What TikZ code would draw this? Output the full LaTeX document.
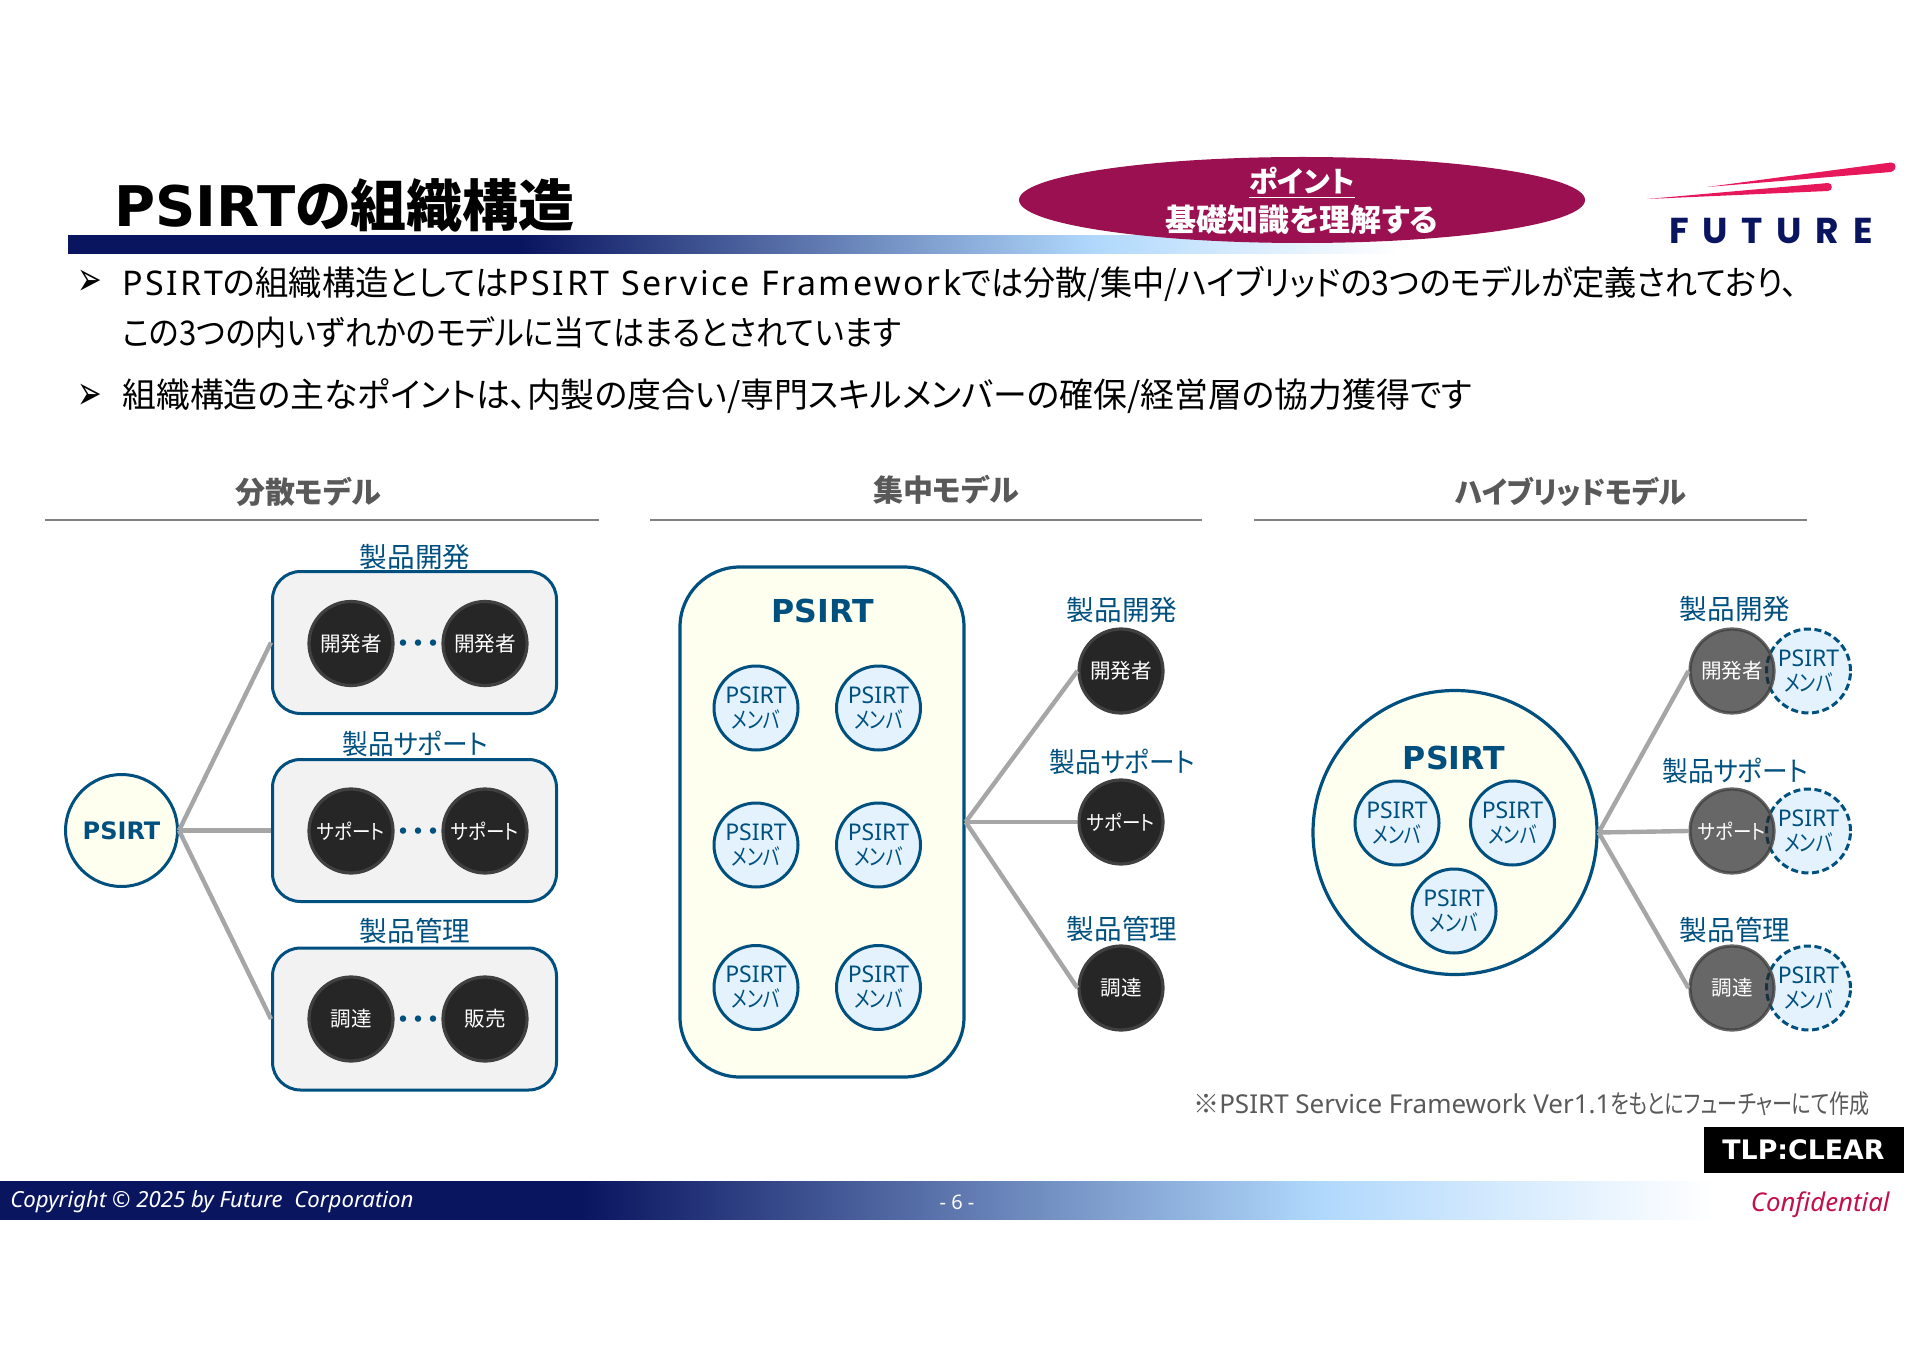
\documentclass[tikz,border=0pt]{standalone}
\usepackage{fontspec}
\usepackage{xcolor}
\usetikzlibrary{positioning,shapes.geometric}
\setmainfont{Noto Sans CJK JP}[RawFeature=+palt]
\newfontfamily\latfont{Noto Sans}
\newfontfamily\latwide[LetterSpace=7.5]{Noto Sans}
\newfontfamily\latbold{DejaVu Sans}
\newfontfamily\bulfont{DejaVu Sans}
\newfontfamily\logofont[LetterSpace=38]{Poppins}
\newcommand{\lat}[1]{{\latfont #1}}
\newcommand{\xs}[2]{\scalebox{#1}[1]{#2}}
\newcommand{\memtext}{\lat{PSIRT}\\\xs{.78}{メンバ}}
\definecolor{psblue}{HTML}{00507F}
\definecolor{psyellow}{HTML}{FFFFF0}
\definecolor{psmember}{HTML}{E3F2FD}
\definecolor{psdark}{HTML}{262626}
\definecolor{navyc}{HTML}{0A1560}
\definecolor{skyc}{HTML}{B0D8FC}
\definecolor{wine}{HTML}{9A1050}
\definecolor{swoosh}{HTML}{E6175A}
\definecolor{confred}{HTML}{C4104F}
\pgfdeclarehorizontalshading{barshade}{100bp}{color(0bp)=(navyc); color(42bp)=(navyc); color(63.5bp)=(skyc); color(75bp)=(white); color(100bp)=(white)}

\begin{document}
\begin{tikzpicture}[x=0.5pt, y=-0.5pt,
		body/.style={anchor=base west, inner sep=0pt, font=\fontsize{17}{19}\selectfont},
		bul/.style={inner sep=0pt, font=\bulfont\fontsize{14}{16}\selectfont},
		heading/.style={inner sep=0pt, text=black!65, font=\bfseries\fontsize{15}{16}\selectfont},
		rulegray/.style={draw=black!50, line width=0.6pt},
		unitlabel/.style={inner sep=0pt, text=psblue, font=\fontsize{13.8}{15}\selectfont},
		unitbox/.style={draw=psblue, fill=black!5, line width=1.5pt, rounded corners=14pt, minimum width=142pt, minimum height=71pt, inner sep=0pt},
		staff/.style={circle, draw=black!75, fill=psdark, line width=1.6pt, minimum size=42pt, inner sep=0pt, text=white, font=\fontsize{10.3}{12}\selectfont},
		staffpale/.style={staff, fill opacity=0.7, draw opacity=0.8, text opacity=1},
		dotrow/.style={inner sep=0pt, text=psblue, font=\fontsize{15}{16}\selectfont},
		member/.style={circle, draw=psblue, fill=psmember, line width=1.5pt, minimum size=42pt, inner sep=0pt, align=center, text=psblue, font=\fontsize{11.5}{12.5}\selectfont},
		memberdash/.style={member, dash pattern=on 3.5pt off 1.8pt},
		link/.style={draw=black!35, line width=2.2pt},
		team/.style={draw=psblue, fill=psyellow, line width=1.6pt, inner sep=0pt},
		teamname/.style={inner sep=0pt, text=psblue, font=\latbold\bfseries\fontsize{15.8}{18}\selectfont}]
\useasboundingbox (0,0) rectangle (1920,1358);

% header
\node[anchor=base west, inner sep=0pt, font=\bfseries\fontsize{28}{30}\selectfont] (title) at (114,227) {{\latbold PSIRT}の組織構造};
\shade[shading=barshade] (68,236) rectangle (1400,254);
\node[ellipse, fill=wine, minimum width=283pt, minimum height=43pt, inner sep=0pt] (point) at (1302,200) {};
\node[inner sep=0pt, text=white, font=\bfseries\fontsize{14.5}{16}\selectfont] (pointa) at (1302,183) {\underline{ポイント}};
\node[inner sep=0pt, text=white, font=\bfseries\fontsize{15.5}{17}\selectfont] (pointb) at (1302,220) {基礎知識を理解する};
\fill[swoosh] (1707,187) -- (1891,162.5) .. controls (1897,162) and (1897,171) .. (1891,172) -- cycle;
\fill[swoosh] (1647,199) -- (1828,183) .. controls (1833,183) and (1833,191) .. (1828,191) -- cycle;
\node[inner sep=0pt, text=navyc, font=\logofont\bfseries\fontsize{18}{20}\selectfont] (logo) at (1771,231) {FUTURE};

% text
\node[bul] (bul1) at (90,283) {\scalebox{1.05}[1.7]{➢}};
\node[body] (line1) at (122,296) {{\latwide PSIRT}\xs{.98}{の組織構造としては}{\latwide PSIRT Service Framework}\xs{.945}{では分散/集中/ハイブリッドの3つのモデルが定義されており、}};
\node[body] (line2) at (122,345) {\xs{.915}{この3つの内いずれかのモデルに当てはまるとされています}};
\node[bul] (bul2) at (90,397) {\scalebox{1.05}[1.7]{➢}};
\node[body] (line3) at (122,408) {\xs{.996}{組織構造の主なポイントは、内製の度合い/専門スキルメンバーの確保/経営層の協力獲得です}};

\node[heading] (head1) at (308,492) {分散モデル};
\node[heading] (head2) at (946,490) {集中モデル};
\node[heading] (head3) at (1571,492) {\xs{.94}{ハイブリッドモデル}};
\draw[rulegray] (45,520) -- (599,520);
\draw[rulegray] (650,520) -- (1202,520);
\draw[rulegray] (1254,520) -- (1807,520);

% left model
\node[circle, draw=psblue, fill=psyellow, line width=1.5pt, minimum size=56pt, inner sep=0pt, text=psblue, font=\latbold\bfseries\fontsize{12}{14}\selectfont] (root) at (121.5,830.5) {PSIRT};
\node[unitbox] (box1) at (414.5,642.5) {};
\node[unitbox] (box2) at (414.5,830.5) {};
\node[unitbox] (box3) at (414.5,1019) {};
\node[unitlabel] (lab1) at (415,557) {製品開発};
\node[unitlabel] (lab2) at (415,744) {\xs{.93}{製品サポート}};
\node[unitlabel] (lab3) at (415,931) {製品管理};
\node[staff] (s1a) at (351,643.5) {開発者};
\node[staff] (s1b) at (485,643.5) {開発者};
\node[staff] (s2a) at (351,831) {\xs{.9}{サポート}};
\node[staff] (s2b) at (485,831) {\xs{.9}{サポート}};
\node[staff] (s3a) at (351,1019) {調達};
\node[staff] (s3b) at (485,1019) {販売};
\node[dotrow] (d1) at (418,647) {・・・};
\node[dotrow] (d2) at (418,835) {・・・};
\node[dotrow] (d3) at (418,1023) {・・・};
\draw[link] (root.east) -- (box1.west);
\draw[link] (root.east) -- (box2.west);
\draw[link] (root.east) -- (box3.west);

% middle model
\node[team, rounded corners=30pt, minimum width=142pt, minimum height=255pt] (mid) at (822,822) {};
\node[teamname] (midname) at (822.5,611) {PSIRT};
\foreach \nm/\px/\py in {m1/756/708, m2/878.5/708, m3/756/845, m4/878.5/845, m5/756/987.5, m6/878.5/987.5}
	\node[member] (\nm) at (\px,\py) {\memtext};
\node[unitlabel] (mlab1) at (1122,610) {製品開発};
\node[unitlabel] (mlab2) at (1122,762) {\xs{.93}{製品サポート}};
\node[unitlabel] (mlab3) at (1122,929) {製品管理};
\node[staff] (mdev) at (1121,671) {開発者};
\node[staff] (msup) at (1121,822) {\xs{.9}{サポート}};
\node[staff] (mpro) at (1121,988) {調達};
\draw[link] (mid.east) -- (mdev.west);
\draw[link] (mid.east) -- (msup.west);
\draw[link] (mid.east) -- (mpro.west);

% right model
\node[team, circle, minimum size=142pt] (hyb) at (1455,832.5) {};
\node[teamname] (hybname) at (1454,758) {PSIRT};
\node[member] (h1) at (1397,823) {\memtext};
\node[member] (h2) at (1512.5,823) {\memtext};
\node[member] (h3) at (1454,911) {\memtext};
\node[unitlabel] (rlab1) at (1735,609) {製品開発};
\node[unitlabel] (rlab2) at (1735,771) {\xs{.93}{製品サポート}};
\node[unitlabel] (rlab3) at (1735,930) {製品管理};
\node[memberdash] (d1m) at (1808.5,671) {\memtext};
\node[memberdash] (d2m) at (1808.5,831) {\memtext};
\node[memberdash] (d3m) at (1808.5,988) {\memtext};
\node[staffpale] (rdev) at (1732,671) {開発者};
\node[staffpale] (rsup) at (1732,831) {\xs{.9}{サポート}};
\node[staffpale] (rpro) at (1732,988) {調達};
\draw[link] (hyb.east) -- (rdev.west);
\draw[link] (hyb.east) -- (rsup.west);
\draw[link] (hyb.east) -- (rpro.west);

% footer
\node[anchor=east, inner sep=0pt, text=black!65, font=\fontsize{13}{14}\selectfont] (note) at (1870,1104) {※\lat{PSIRT Service Framework Ver1.1}\xs{.77}{をもとにフューチャーにて作成}};
\node[fill=black, minimum width=100pt, minimum height=23pt, inner sep=0pt, text=white, font=\latbold\bfseries\fontsize{13.4}{16}\selectfont] (tlp) at (1803.5,1150) {TLP:CLEAR};
\shade[shading=barshade] (0,1181) rectangle (1714,1219);
\node[anchor=west, inner sep=0pt, text=white, font=\latfont\itshape\fontsize{11.1}{12}\selectfont] (copy) at (10,1202) {Copyright © 2025 by Future\ \ Corporation};
\node[inner sep=0pt, text=white, font=\latfont\fontsize{10}{11}\selectfont] (page) at (957,1202) {- 6 -};
\node[anchor=east, inner sep=0pt, text=confred, font=\latfont\itshape\fontsize{12.9}{14}\selectfont] (conf) at (1890,1205) {Confidential};
\end{tikzpicture}
\end{document}
